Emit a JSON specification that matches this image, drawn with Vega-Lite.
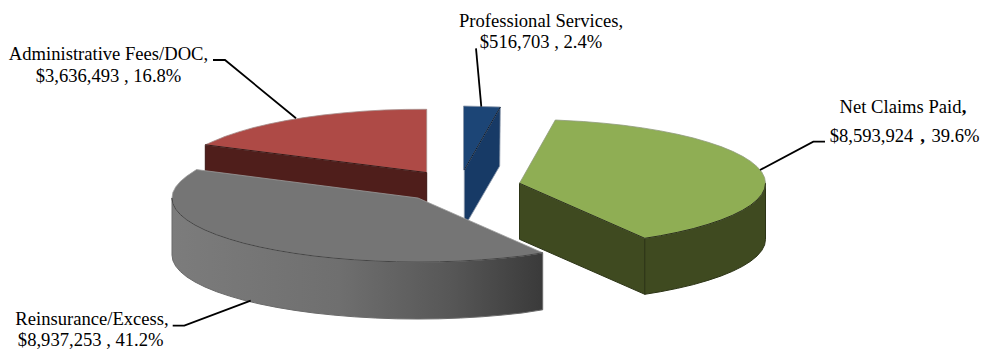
{
"$schema":"https://vega.github.io/schema/vega-lite/v6.json",
"width":982,"height":349,"padding":0,"autosize":{"type":"none"},
"background":"white",
"config":{"view":{"stroke":null}},
"datasets":{
"outline":[
{"face":"red cut","i":0,"x":426.7,"y":172.6},{"face":"red cut","i":1,"x":205.3,"y":144.8},{"face":"red cut","i":2,"x":205.3,"y":201.8},{"face":"red cut","i":3,"x":426.7,"y":229.6},{"face":"red cut","i":4,"x":426.7,"y":172.6},
{"face":"red top","i":0,"x":426.7,"y":172.6},{"face":"red top","i":1,"x":426.7,"y":109.3},{"face":"red top","i":2,"x":405.6,"y":109.4},{"face":"red top","i":3,"x":384.3,"y":110},{"face":"red top","i":4,"x":363.3,"y":111.2},{"face":"red top","i":5,"x":342.9,"y":112.9},{"face":"red top","i":6,"x":323,"y":115},{"face":"red top","i":7,"x":304,"y":117.6},{"face":"red top","i":8,"x":285.9,"y":120.6},{"face":"red top","i":9,"x":268.9,"y":124},{"face":"red top","i":10,"x":253.1,"y":127.7},{"face":"red top","i":11,"x":238.6,"y":131.9},{"face":"red top","i":12,"x":225.5,"y":136.3},{"face":"red top","i":13,"x":214,"y":141},{"face":"red top","i":14,"x":205.3,"y":144.8},{"face":"red top","i":15,"x":426.7,"y":172.6},
{"face":"blue side","i":0,"x":500.3,"y":107},{"face":"blue side","i":1,"x":499.7,"y":166},{"face":"blue side","i":2,"x":464.3,"y":227},{"face":"blue side","i":3,"x":464.3,"y":169.8},{"face":"blue side","i":4,"x":500.3,"y":107},
{"face":"blue top","i":0,"x":463.5,"y":106},{"face":"blue top","i":1,"x":500.3,"y":107},{"face":"blue top","i":2,"x":464.3,"y":169.8},{"face":"blue top","i":3,"x":463.5,"y":169.8},{"face":"blue top","i":4,"x":463.5,"y":106},
{"face":"blue edge","i":0,"x":500.3,"y":107},{"face":"blue edge","i":1,"x":464.3,"y":169.8},
{"face":"green cut","i":0,"x":519.5,"y":183.3},{"face":"green cut","i":1,"x":644.8,"y":238.3},{"face":"green cut","i":2,"x":644.8,"y":294.3},{"face":"green cut","i":3,"x":519.5,"y":239.3},{"face":"green cut","i":4,"x":519.5,"y":183.3},
{"face":"green wall","i":0,"x":765.5,"y":183.3},{"face":"green wall","i":1,"x":764.6,"y":188.9},{"face":"green wall","i":2,"x":761.8,"y":194.4},{"face":"green wall","i":3,"x":757.1,"y":199.9},{"face":"green wall","i":4,"x":750.7,"y":205.2},{"face":"green wall","i":5,"x":742.5,"y":210.3},{"face":"green wall","i":6,"x":732.5,"y":215.3},{"face":"green wall","i":7,"x":721,"y":220},{"face":"green wall","i":8,"x":707.9,"y":224.4},{"face":"green wall","i":9,"x":693.4,"y":228.6},{"face":"green wall","i":10,"x":677.6,"y":232.3},{"face":"green wall","i":11,"x":660.6,"y":235.7},{"face":"green wall","i":12,"x":644.8,"y":238.3},
{"face":"green wall","i":13,"x":644.8,"y":294.3},{"face":"green wall","i":14,"x":660.6,"y":291.7},{"face":"green wall","i":15,"x":677.6,"y":288.3},{"face":"green wall","i":16,"x":693.4,"y":284.6},{"face":"green wall","i":17,"x":707.9,"y":280.4},{"face":"green wall","i":18,"x":721,"y":276},{"face":"green wall","i":19,"x":732.5,"y":271.3},{"face":"green wall","i":20,"x":742.5,"y":266.3},{"face":"green wall","i":21,"x":750.7,"y":261.2},{"face":"green wall","i":22,"x":757.1,"y":255.9},{"face":"green wall","i":23,"x":761.8,"y":250.4},{"face":"green wall","i":24,"x":764.6,"y":244.9},{"face":"green wall","i":25,"x":765.5,"y":239.3},{"face":"green wall","i":26,"x":765.5,"y":183.3},
{"face":"green top","i":0,"x":519.5,"y":183.3},{"face":"green top","i":1,"x":555.3,"y":120},{"face":"green top","i":2,"x":583.2,"y":121.5},{"face":"green top","i":3,"x":603.6,"y":123.2},{"face":"green top","i":4,"x":623.5,"y":125.3},{"face":"green top","i":5,"x":642.5,"y":127.9},{"face":"green top","i":6,"x":660.6,"y":130.9},{"face":"green top","i":7,"x":677.6,"y":134.3},{"face":"green top","i":8,"x":693.4,"y":138},{"face":"green top","i":9,"x":707.9,"y":142.2},{"face":"green top","i":10,"x":721,"y":146.6},{"face":"green top","i":11,"x":732.5,"y":151.3},{"face":"green top","i":12,"x":742.5,"y":156.3},{"face":"green top","i":13,"x":750.7,"y":161.4},{"face":"green top","i":14,"x":757.1,"y":166.7},{"face":"green top","i":15,"x":761.8,"y":172.2},{"face":"green top","i":16,"x":764.6,"y":177.7},{"face":"green top","i":17,"x":765.5,"y":183.3},{"face":"green top","i":18,"x":764.6,"y":188.9},{"face":"green top","i":19,"x":761.8,"y":194.4},{"face":"green top","i":20,"x":757.1,"y":199.9},{"face":"green top","i":21,"x":750.7,"y":205.2},{"face":"green top","i":22,"x":742.5,"y":210.3},{"face":"green top","i":23,"x":732.5,"y":215.3},{"face":"green top","i":24,"x":721,"y":220},{"face":"green top","i":25,"x":707.9,"y":224.4},{"face":"green top","i":26,"x":693.4,"y":228.6},{"face":"green top","i":27,"x":677.6,"y":232.3},{"face":"green top","i":28,"x":660.6,"y":235.7},{"face":"green top","i":29,"x":644.8,"y":238.3},{"face":"green top","i":30,"x":519.5,"y":183.3},
{"face":"gray wall","i":0,"x":172,"y":198},{"face":"gray wall","i":1,"x":172.9,"y":203.6},{"face":"gray wall","i":2,"x":175.7,"y":209.1},{"face":"gray wall","i":3,"x":180.4,"y":214.6},{"face":"gray wall","i":4,"x":186.8,"y":219.9},{"face":"gray wall","i":5,"x":195,"y":225},{"face":"gray wall","i":6,"x":205,"y":230},{"face":"gray wall","i":7,"x":216.5,"y":234.7},{"face":"gray wall","i":8,"x":229.6,"y":239.1},{"face":"gray wall","i":9,"x":244.1,"y":243.3},{"face":"gray wall","i":10,"x":259.9,"y":247},{"face":"gray wall","i":11,"x":276.9,"y":250.4},{"face":"gray wall","i":12,"x":295,"y":253.4},{"face":"gray wall","i":13,"x":314,"y":256},{"face":"gray wall","i":14,"x":333.9,"y":258.1},{"face":"gray wall","i":15,"x":354.3,"y":259.8},{"face":"gray wall","i":16,"x":375.3,"y":261},{"face":"gray wall","i":17,"x":396.6,"y":261.8},{"face":"gray wall","i":18,"x":418,"y":262},{"face":"gray wall","i":19,"x":439.4,"y":261.8},{"face":"gray wall","i":20,"x":460.7,"y":261},{"face":"gray wall","i":21,"x":481.7,"y":259.8},{"face":"gray wall","i":22,"x":502.1,"y":258.1},{"face":"gray wall","i":23,"x":522,"y":256},{"face":"gray wall","i":24,"x":542.7,"y":252.8},
{"face":"gray wall","i":25,"x":542.7,"y":309.8},{"face":"gray wall","i":26,"x":522,"y":313},{"face":"gray wall","i":27,"x":502.1,"y":315.1},{"face":"gray wall","i":28,"x":481.7,"y":316.8},{"face":"gray wall","i":29,"x":460.7,"y":318},{"face":"gray wall","i":30,"x":439.4,"y":318.8},{"face":"gray wall","i":31,"x":418,"y":319},{"face":"gray wall","i":32,"x":396.6,"y":318.8},{"face":"gray wall","i":33,"x":375.3,"y":318},{"face":"gray wall","i":34,"x":354.3,"y":316.8},{"face":"gray wall","i":35,"x":333.9,"y":315.1},{"face":"gray wall","i":36,"x":314,"y":313},{"face":"gray wall","i":37,"x":295,"y":310.4},{"face":"gray wall","i":38,"x":276.9,"y":307.4},{"face":"gray wall","i":39,"x":259.9,"y":304},{"face":"gray wall","i":40,"x":244.1,"y":300.3},{"face":"gray wall","i":41,"x":229.6,"y":296.1},{"face":"gray wall","i":42,"x":216.5,"y":291.7},{"face":"gray wall","i":43,"x":205,"y":287},{"face":"gray wall","i":44,"x":195,"y":282},{"face":"gray wall","i":45,"x":186.8,"y":276.9},{"face":"gray wall","i":46,"x":180.4,"y":271.6},{"face":"gray wall","i":47,"x":175.7,"y":266.1},{"face":"gray wall","i":48,"x":172.9,"y":260.6},{"face":"gray wall","i":49,"x":172,"y":255},{"face":"gray wall","i":50,"x":172,"y":198},
{"face":"gray top","i":0,"x":418,"y":198},{"face":"gray top","i":1,"x":542.7,"y":252.8},{"face":"gray top","i":2,"x":522,"y":256},{"face":"gray top","i":3,"x":502.1,"y":258.1},{"face":"gray top","i":4,"x":481.7,"y":259.8},{"face":"gray top","i":5,"x":460.7,"y":261},{"face":"gray top","i":6,"x":439.4,"y":261.8},{"face":"gray top","i":7,"x":418,"y":262},{"face":"gray top","i":8,"x":396.6,"y":261.8},{"face":"gray top","i":9,"x":375.3,"y":261},{"face":"gray top","i":10,"x":354.3,"y":259.8},{"face":"gray top","i":11,"x":333.9,"y":258.1},{"face":"gray top","i":12,"x":314,"y":256},{"face":"gray top","i":13,"x":295,"y":253.4},{"face":"gray top","i":14,"x":276.9,"y":250.4},{"face":"gray top","i":15,"x":259.9,"y":247},{"face":"gray top","i":16,"x":244.1,"y":243.3},{"face":"gray top","i":17,"x":229.6,"y":239.1},{"face":"gray top","i":18,"x":216.5,"y":234.7},{"face":"gray top","i":19,"x":205,"y":230},{"face":"gray top","i":20,"x":195,"y":225},{"face":"gray top","i":21,"x":186.8,"y":219.9},{"face":"gray top","i":22,"x":180.4,"y":214.6},{"face":"gray top","i":23,"x":175.7,"y":209.1},{"face":"gray top","i":24,"x":172.9,"y":203.6},{"face":"gray top","i":25,"x":172,"y":198},{"face":"gray top","i":26,"x":172.9,"y":192.4},{"face":"gray top","i":27,"x":175.7,"y":186.9},{"face":"gray top","i":28,"x":180.4,"y":181.4},{"face":"gray top","i":29,"x":186.8,"y":176.1},{"face":"gray top","i":30,"x":196.5,"y":169.6},{"face":"gray top","i":31,"x":418,"y":198},
{"face":"leader admin","i":0,"x":213,"y":60},{"face":"leader admin","i":1,"x":225,"y":60},{"face":"leader admin","i":2,"x":296,"y":118.3},
{"face":"leader professional","i":0,"x":476,"y":48.3},{"face":"leader professional","i":1,"x":481.3,"y":106.7},
{"face":"leader claims","i":0,"x":825,"y":141.7},{"face":"leader claims","i":1,"x":813.3,"y":141.7},{"face":"leader claims","i":2,"x":760,"y":170},
{"face":"leader reinsurance","i":0,"x":172.7,"y":325.7},{"face":"leader reinsurance","i":1,"x":184.3,"y":325.7},{"face":"leader reinsurance","i":2,"x":250.7,"y":300.7}
],
"captions":[
{"text":"Administrative Fees/DOC,","x":108.5,"y":60},
{"text":"$3,636,493 , 16.8%","x":108.5,"y":82},
{"text":"Professional Services,","x":541,"y":26.7},
{"text":"$516,703 , 2.4%","x":541,"y":48},
{"text":"Net Claims Paid","x":900.5,"y":112.7},
{"text":"$8,593,924","x":871.5,"y":141.7},
{"text":"39.6%","x":955.5,"y":141.7},
{"text":"Reinsurance/Excess,","x":92,"y":324.5},
{"text":"$8,937,253 , 41.2%","x":90.7,"y":345.5}
],
"boldCommas":[
{"text":",","x":964,"y":112.7},
{"text":",","x":922.5,"y":141.7}
]
},
"encoding":{
"x":{"field":"x","type":"quantitative","scale":{"domain":[0,982],"nice":false,"zero":false},"axis":null},
"y":{"field":"y","type":"quantitative","scale":{"domain":[349,0],"nice":false,"zero":false},"axis":null}
},
"layer":[
{"data":{"name":"outline"},"transform":[{"filter":"datum.face=='red cut'"}],"mark":{"type":"line","fill":"#4f1e1b","stroke":"#3a1513","strokeWidth":1},"encoding":{"order":{"field":"i"}}},
{"data":{"name":"outline"},"transform":[{"filter":"datum.face=='red top'"}],"mark":{"type":"line","fill":"#ae4a46","stroke":"#a58a88","strokeWidth":0.8},"encoding":{"order":{"field":"i"}}},
{"data":{"name":"outline"},"transform":[{"filter":"datum.face=='red cut' && datum.i<=1"}],"mark":{"type":"line","stroke":"#3a1513","strokeWidth":1},"encoding":{"order":{"field":"i"}}},
{"data":{"name":"outline"},"transform":[{"filter":"datum.face=='blue side'"}],"mark":{"type":"line","fill":"#173a66","stroke":"#8a97aa","strokeWidth":0.8},"encoding":{"order":{"field":"i"}}},
{"data":{"name":"outline"},"transform":[{"filter":"datum.face=='blue top'"}],"mark":{"type":"line","fill":"#1c4576","stroke":"#8a97aa","strokeWidth":0.8},"encoding":{"order":{"field":"i"}}},
{"data":{"name":"outline"},"transform":[{"filter":"datum.face=='blue edge'"}],"mark":{"type":"line","stroke":"#0c1c30","strokeWidth":1},"encoding":{"order":{"field":"i"}}},
{"data":{"name":"outline"},"transform":[{"filter":"datum.face=='green cut'"}],"mark":{"type":"line","fill":"#3f4a20","stroke":"#2c3416","strokeWidth":1},"encoding":{"order":{"field":"i"}}},
{"data":{"name":"outline"},"transform":[{"filter":"datum.face=='green wall'"}],"mark":{"type":"line","fill":"#3f4a20","stroke":"#2c3416","strokeWidth":1},"encoding":{"order":{"field":"i"}}},
{"data":{"name":"outline"},"transform":[{"filter":"datum.face=='green top'"}],"mark":{"type":"line","fill":"#8fae54","stroke":"#8f9a7c","strokeWidth":0.8},"encoding":{"order":{"field":"i"}}},
{"data":{"name":"outline"},"transform":[{"filter":"datum.face=='green wall' && datum.i<=12"}],"mark":{"type":"line","stroke":"#2c3416","strokeWidth":1},"encoding":{"order":{"field":"i"}}},
{"data":{"name":"outline"},"transform":[{"filter":"datum.face=='green cut' && datum.i<=1"}],"mark":{"type":"line","stroke":"#2c3416","strokeWidth":1},"encoding":{"order":{"field":"i"}}},
{"data":{"name":"outline"},"transform":[{"filter":"datum.face=='gray wall'"}],"mark":{"type":"line","stroke":"#6a6a6a","strokeWidth":1,"fill":{"gradient":"linear","x1":0,"y1":0,"x2":1,"y2":0,"stops":[{"offset":0,"color":"#7c7c7c"},{"offset":0.45,"color":"#6f6f6f"},{"offset":0.75,"color":"#575757"},{"offset":1,"color":"#3a3a3a"}]}},"encoding":{"order":{"field":"i"}}},
{"data":{"name":"outline"},"transform":[{"filter":"datum.face=='gray top'"}],"mark":{"type":"line","fill":"#757575","stroke":"#9a9a9a","strokeWidth":0.8},"encoding":{"order":{"field":"i"}}},
{"data":{"name":"outline"},"transform":[{"filter":"datum.face=='gray wall' && datum.i<=24"}],"mark":{"type":"line","stroke":"#444444","strokeWidth":1},"encoding":{"order":{"field":"i"}}},
{"data":{"name":"outline"},"transform":[{"filter":"indexof(datum.face,'leader')==0"}],"mark":{"type":"line","stroke":"#000000","strokeWidth":1.8},"encoding":{"detail":{"field":"face"},"order":{"field":"i"}}},
{"data":{"name":"captions"},"mark":{"type":"text","font":"Liberation Serif","fontSize":18.6,"align":"center","baseline":"alphabetic","color":"#000000"},"encoding":{"text":{"field":"text"}}},
{"data":{"name":"boldCommas"},"mark":{"type":"text","font":"Liberation Serif","fontSize":18.6,"fontWeight":"bold","align":"center","baseline":"alphabetic","color":"#000000"},"encoding":{"text":{"field":"text"}}}
]
}
